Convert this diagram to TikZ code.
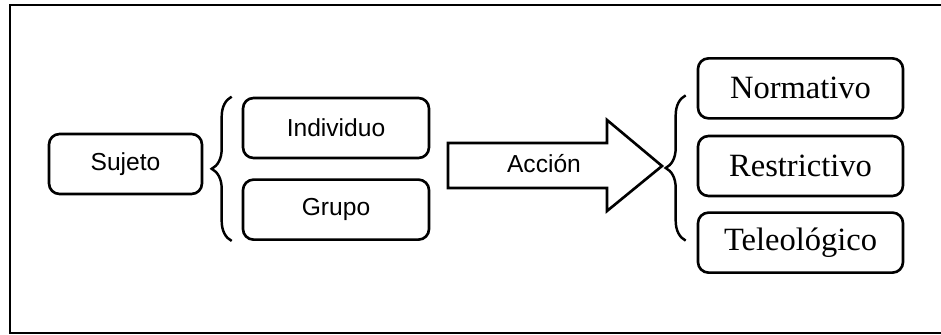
\documentclass[tikz,border=0pt]{standalone}
\usepackage{fontspec}
\setmainfont{Liberation Serif}
\setsansfont{Liberation Sans}
\usetikzlibrary{positioning,calc,decorations.pathreplacing}
\tikzset{
  basic/.style  = {draw, line width=1.5pt, rounded corners=6pt, rectangle, minimum height=1.2cm, inner sep=0pt},
  lbox/.style   = {basic, font=\sffamily\fontsize{14}{16}\selectfont},
  sbox/.style   = {lbox, minimum width=3.06cm},
  gbox/.style   = {lbox, minimum width=3.72cm},
  rbox/.style   = {basic, font=\fontsize{18.5}{21}\selectfont, minimum width=4.1cm},
  llave/.style  = {decorate, decoration={brace, amplitude=0.4cm}, line width=1.4pt},
  flecha/.style = {draw, line width=1.5pt, line join=miter}
}

\begin{document}
\begin{tikzpicture}
  \useasboundingbox (0,0) rectangle (18.82,6.7);
% outer frame
  \draw[line width=1.3pt] (0.2,0.04) rectangle (19.5,6.6);

% left part
  \node[sbox] (sujeto) at (2.51,3.42) {Sujeto};
  \node[gbox] (ind) at (6.72,4.14) {Individuo};
  \node[gbox, below=.38cm of ind] (grupo) {Grupo};

% action arrow
  \node[font=\sffamily\fontsize{14}{16}\selectfont] (accion) at (10.88,3.42) {Acción};
  \draw[flecha] (8.96,3.84) -- (12.14,3.84) -- (12.14,4.3) -- (13.24,3.38)
    -- (12.14,2.48) -- (12.14,2.94) -- (8.96,2.94) -- cycle;

% right part
  \node[rbox] (restr) at (16.01,3.38) {Restrictivo};
  \node[rbox, above=.3cm of restr] (norm) {Normativo};
  \node[rbox, below=.28cm of restr] (teleo) {Teleológico};

% braces
  \draw[llave] ($(grupo.south west)+(-0.2,0)$) -- ($(ind.north west)+(-0.2,0)$);
  \draw[llave] ($(teleo.west)+(-0.22,0.04)$) -- ($(norm.west)+(-0.22,-0.14)$);
\end{tikzpicture}
\end{document}
